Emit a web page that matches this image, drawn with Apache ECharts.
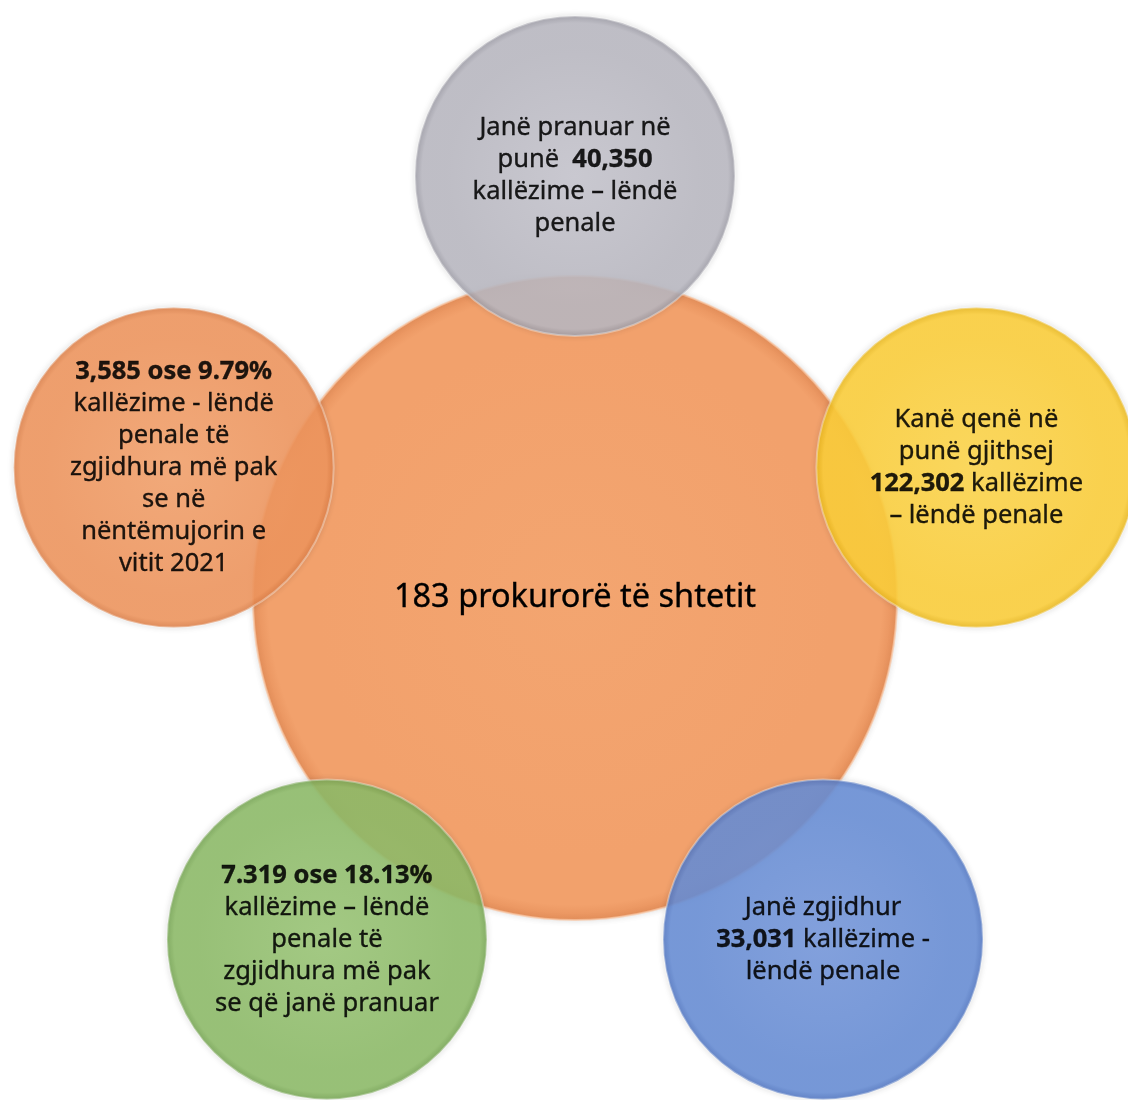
<!DOCTYPE html>
<html>
<head>
<meta charset="utf-8">
<script src="https://cdn.jsdelivr.net/npm/echarts@6/dist/echarts.min.js"></script>
<style>
html,body{margin:0;padding:0;background:#fff;}
#c{width:1128px;height:1100px;}
</style>
</head>
<body>
<div id="c"></div>
<script>
// Hub
const hubLabel = '183 prokurorë të shtetit';
// Satellite circles, clockwise from the top
const categories = ['pranuar', 'gjithsej', 'zgjidhur', 'pak se pranuar', 'pak se 2021'];
const circleTexts = [
  'Janë pranuar në\npunë  {b|40,350}\nkallëzime – lëndë\npenale',
  'Kanë qenë në\npunë gjithsej\n{b|122,302} kallëzime\n– lëndë penale',
  'Janë zgjidhur\n{b|33,031} kallëzime -\nlëndë penale',
  '{b|7.319 ose 18.13%}\nkallëzime – lëndë\npenale të\nzgjidhura më pak\nse që janë pranuar',
  '{b|3,585 ose 9.79%}\nkallëzime - lëndë\npenale të\nzgjidhura më pak\nse në\nnëntëmujorin e\nvitit 2021'
];
const circleColors = [
  ['#c6c5ce', '#bab9c2', '#9d9ca6'],
  ['#fed64c', '#fdcf3a', '#eab81c'],
  ['#7698dc', '#688ed6', '#5076c2'],
  ['#9bc677', '#8ebc69', '#76a552'],
  ['#f4a26c', '#f0965e', '#dd8048']
];

const FONT = '"Noto Sans", Lato, sans-serif';

function radial(c) {
  return {
    type: 'radial', x: 0.5, y: 0.5, r: 0.5,
    colorStops: [
      { offset: 0, color: c[0] },
      { offset: 0.8, color: c[1] },
      { offset: 0.95, color: c[1] },
      { offset: 1, color: c[2] }
    ]
  };
}

const chart = echarts.init(document.getElementById('c'), null, { renderer: 'canvas' });

const satData = categories.map((cat, i) => ({
  value: [1, i],
  itemStyle: { color: radial(circleColors[i]) },
  label: { formatter: circleTexts[i] }
}));

const textStyle = { color: '#000', textBorderColor: '#000', textBorderWidth: 0.35 };

chart.setOption({
  animation: false,
  backgroundColor: '#ffffff',
  polar: { center: [575, 598], radius: 422 },
  angleAxis: {
    type: 'category', data: categories, startAngle: 90, clockwise: true,
    boundaryGap: false, show: false
  },
  radiusAxis: { type: 'value', min: 0, max: 1, show: false },
  series: [
    {
      type: 'scatter', coordinateSystem: 'polar', z: 1,
      symbol: 'circle', symbolSize: 644,
      data: [{ value: [0, 0], label: { formatter: hubLabel } }],
      itemStyle: {
        opacity: 1,
        color: radial(['#f3a570', '#f2a16c', '#e6905b']),
        borderColor: 'rgba(250,200,165,0.7)', borderWidth: 2,
        shadowColor: 'rgba(0,0,0,0.12)', shadowBlur: 6
      },
      label: Object.assign({
        show: true, position: 'inside',
        fontFamily: FONT, fontSize: 32.5, lineHeight: 38
      }, textStyle),
      emphasis: { disabled: true },
      silent: true
    },
    {
      type: 'scatter', coordinateSystem: 'polar', z: 2,
      symbol: 'circle', symbolSize: 320,
      data: satData,
      itemStyle: {
        opacity: 0.88,
        borderColor: 'rgba(255,255,255,0.4)', borderWidth: 2,
        shadowColor: 'rgba(0,0,0,0.15)', shadowBlur: 6
      },
      label: Object.assign({
        show: true, position: 'inside',
        fontFamily: FONT, fontSize: 25.5, lineHeight: 32, align: 'center',
        rich: {
          b: Object.assign({ fontFamily: FONT, fontSize: 25.5, lineHeight: 32, fontWeight: 'bold' }, textStyle)
        }
      }, textStyle),
      emphasis: { disabled: true },
      silent: true
    }
  ]
});
</script>
</body>
</html>
